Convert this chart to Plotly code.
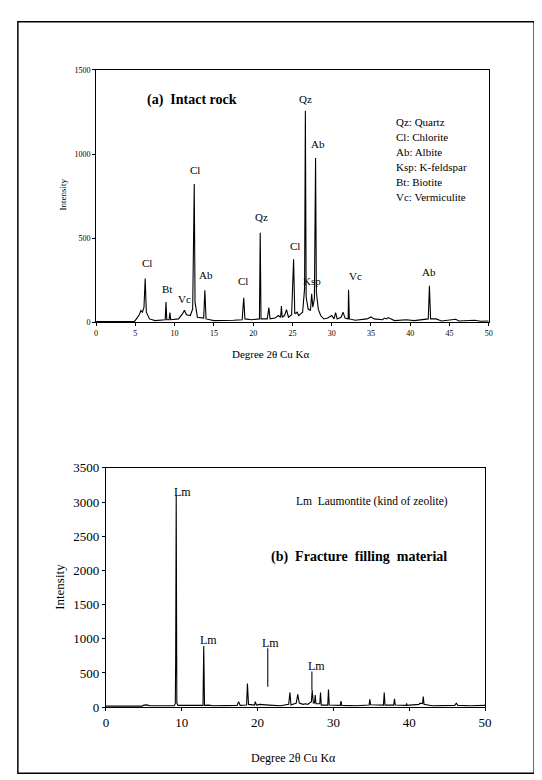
import plotly.graph_objects as go

W, H = 542, 780

# ---------------- (a) Intact rock ----------------
two_theta_a = [0, 4.9, 5.2, 5.5, 5.7, 5.9, 6.1, 6.25, 6.4, 6.8, 7.5, 8.5, 8.8, 8.9, 9.0, 9.3, 9.4, 9.5,
               10.5, 11.0, 11.25, 11.5, 12.0, 12.3, 12.4, 12.5, 12.6, 12.9, 13.7, 13.85, 14.0, 15.0,
               17.5, 18.6, 18.8, 18.95, 19.8, 20.8, 20.9, 21.0, 21.8, 22.0, 22.15, 22.8, 23.2, 23.5,
               23.6, 23.7, 24.0, 24.25, 24.5, 24.9, 25.15, 25.3, 25.6, 25.8, 26.3, 26.55, 26.65, 26.75,
               27.0, 27.3, 27.45, 27.6, 27.8, 27.95, 28.05, 28.3, 28.6, 29.0, 29.5, 30.0, 30.3, 30.5,
               30.7, 31.2, 31.45, 31.7, 32.1, 32.15, 32.25, 33.0, 34.5, 35.0, 35.4, 36.5, 36.7, 37.0,
               37.2, 38.0, 39.5, 40.5, 42.3, 42.45, 42.6, 43.3, 44.0, 45.8, 46.2, 48.2, 49.0, 50.0]
intensity_a = [5, 5, 25, 45, 70, 60, 90, 260, 60, 20, 10, 12, 15, 120, 15, 15, 58, 15,
               20, 50, 72, 45, 40, 80, 560, 822, 120, 30, 25, 190, 20, 10,
               12, 15, 145, 20, 15, 20, 532, 20, 20, 87, 20, 25, 40, 30,
               97, 30, 40, 75, 30, 45, 375, 50, 60, 40, 60, 200, 1257, 150,
               80, 70, 170, 90, 140, 977, 180, 77, 40, 20, 25, 40, 20, 58,
               20, 30, 60, 25, 20, 193, 20, 12, 20, 32, 20, 15, 25, 20,
               28, 10, 15, 10, 20, 217, 20, 20, 8, 18, 8, 12, 6, 8]

peak_labels_a = ["Cl", "Bt", "Vc", "Cl", "Ab", "Cl", "Qz", "Cl", "Qz", "Ksp", "Ab", "Vc", "Ab"]
peak_label_x_a = [6.45, 9.05, 11.25, 12.6, 13.95, 18.75, 21.0, 25.3, 26.65, 27.5, 28.25, 33.0, 42.45]
peak_label_y_a = [350, 200, 140, 905, 280, 246, 625, 455, 1330, 248, 1058, 275, 300]

mineral_key_a = ["Qz: Quartz", "Cl: Chlorite", "Ab: Albite", "Ksp: K-feldspar", "Bt: Biotite", "Vc: Vermiculite"]

# ---------------- (b) Fracture filling material ----------------
two_theta_b = [0, 4.8, 5.0, 5.4, 5.8, 9.0, 9.15, 9.2, 9.27, 9.35, 9.5, 12.8, 12.9, 13.0, 13.5, 14.2,
               17.3, 17.5, 17.7, 18.55, 18.66, 18.8, 19.6, 19.7, 19.85, 20.3, 21.5, 23.0, 24.1, 24.27,
               24.4, 25.1, 25.3, 25.5, 26.0, 26.3, 26.6, 27.1, 27.2, 27.35, 27.5, 27.6, 27.7, 28.2,
               28.3, 28.4, 29.25, 29.35, 29.45, 30.9, 31.0, 31.1, 33.0, 34.7, 34.8, 34.9, 36.6, 36.7,
               36.8, 37.95, 38.05, 38.15, 39.6, 39.65, 39.7, 41.3, 41.4, 41.75, 41.85, 41.95, 43.0,
               46.0, 46.2, 46.4, 48.0, 50.0]
intensity_b = [15, 15, 30, 33, 20, 20, 50, 700, 3100, 60, 25, 25, 894, 25, 30, 20,
               25, 80, 25, 30, 344, 40, 30, 80, 30, 40, 30, 20, 40, 215,
               30, 60, 186, 60, 40, 50, 40, 80, 250, 60, 60, 177, 50, 50,
               215, 30, 30, 258, 30, 25, 90, 25, 20, 30, 115, 35, 30, 215,
               30, 30, 120, 30, 25, 57, 25, 40, 57, 50, 153, 40, 20,
               25, 57, 25, 20, 25]

lm_label_x = [10.1, 13.5, 21.75, 27.8]
lm_label_y = [3150, 985, 945, 595]
leader_x = [21.34, 27.16]
leader_top = [860, 520]
leader_bottom = [297, 249]

serif = "Liberation Serif, Times New Roman, serif"

fig = go.Figure()

fig.add_trace(go.Scatter(x=two_theta_a, y=intensity_a, mode="lines",
                         line=dict(color="black", width=1.1), xaxis="x", yaxis="y",
                         hoverinfo="skip", showlegend=False))
fig.add_trace(go.Scatter(x=two_theta_b, y=intensity_b, mode="lines",
                         line=dict(color="black", width=1.1), xaxis="x2", yaxis="y2",
                         hoverinfo="skip", showlegend=False))

lx, ly = [], []
for x, t, b in zip(leader_x, leader_top, leader_bottom):
    lx += [x, x, None]
    ly += [t, b, None]
fig.add_trace(go.Scatter(x=lx, y=ly, mode="lines",
                         line=dict(color="#222222", width=1.2),
                         xaxis="x2", yaxis="y2", hoverinfo="skip", showlegend=False))

annotations = []
for t, x, y in zip(peak_labels_a, peak_label_x_a, peak_label_y_a):
    annotations.append(dict(x=x, y=y, xref="x", yref="y", text=t, showarrow=False,
                            font=dict(family=serif, size=11, color="black")))
for x, y in zip(lm_label_x, lm_label_y):
    annotations.append(dict(x=x, y=y, xref="x2", yref="y2", text="Lm", showarrow=False,
                            font=dict(family=serif, size=12, color="black")))

# key text (a)
key_top_px = 109
for i, t in enumerate(mineral_key_a):
    annotations.append(dict(x=390 / W, y=1 - (key_top_px + i * 15.4) / H, xref="paper", yref="paper",
                            text=t, showarrow=False, xanchor="left", yanchor="middle",
                            font=dict(family=serif, size=11, color="black")))

annotations += [
    dict(x=137 / W, y=1 - 87 / H, xref="paper", yref="paper", text="<b>(a)  Intact rock</b>",
         showarrow=False, xanchor="left", yanchor="middle",
         font=dict(family=serif, size=14, color="black")),
    dict(x=265 / W, y=1 - 346 / H, xref="paper", yref="paper", text="Degree 2θ Cu Kα",
         showarrow=False, xanchor="center", yanchor="middle",
         font=dict(family=serif, size=11, color="black")),
    dict(x=53 / W, y=1 - 183 / H, xref="paper", yref="paper", text="Intensity",
         showarrow=False, textangle=-90, xanchor="center", yanchor="middle",
         font=dict(family=serif, size=9, color="black")),
    dict(x=368 / W, y=1 - 496 / H, xref="paper", yref="paper", text="Lm  Laumontite (kind of zeolite)",
         showarrow=False, xanchor="center", yanchor="middle",
         font=dict(family=serif, size=11.5, color="black")),
    dict(x=355 / W, y=1 - 553 / H, xref="paper", yref="paper", text="<b>(b)  Fracture  filling  material</b>",
         showarrow=False, xanchor="center", yanchor="middle",
         font=dict(family=serif, size=14, color="black")),
    dict(x=288 / W, y=1 - 758 / H, xref="paper", yref="paper", text="Degree 2θ Cu Kα",
         showarrow=False, xanchor="center", yanchor="middle",
         font=dict(family=serif, size=12, color="black")),
    dict(x=50 / W, y=1 - 583 / H, xref="paper", yref="paper", text="Intensity",
         showarrow=False, textangle=-90, xanchor="center", yanchor="middle",
         font=dict(family=serif, size=13, color="black")),
]

axis_common = dict(showgrid=False, zeroline=False, showline=True, linecolor="black", linewidth=1,
                   mirror=True, ticks="outside", tickcolor="black", color="black")

fig.update_layout(
    width=W, height=H,
    margin=dict(l=0, r=0, t=0, b=0),
    paper_bgcolor="white", plot_bgcolor="white",
    showlegend=False,
    xaxis=dict(domain=[86.7 / W, 486.7 / W], anchor="y", range=[0, 50], tickmode="array",
               tickvals=list(range(0, 51, 5)), ticklen=3,
               tickfont=dict(family=serif, size=8, color="black"), **axis_common),
    yaxis=dict(domain=[1 - 313.3 / H, 1 - 56 / H], anchor="x", range=[0, 1500], tickmode="array",
               tickvals=[0, 500, 1000, 1500], ticklen=3,
               tickfont=dict(family=serif, size=8, color="black"), **axis_common),
    xaxis2=dict(domain=[96.7 / W, 483 / W], anchor="y2", range=[0, 50], tickmode="array",
                tickvals=list(range(0, 51, 10)), ticklen=3,
                tickfont=dict(family=serif, size=13, color="black"), **axis_common),
    yaxis2=dict(domain=[1 - 705.7 / H, 1 - 461.7 / H], anchor="x2", range=[0, 3500], tickmode="array",
                tickvals=list(range(0, 3501, 500)), ticklen=3,
                tickfont=dict(family=serif, size=13, color="black"), **axis_common),
    annotations=annotations,
    shapes=[dict(type="rect", xref="paper", yref="paper", x0=7 / W, x1=533 / W,
                 y0=1 - 773 / H, y1=1 - 7 / H, line=dict(color="black", width=1.5))],
)

fig.write_html("out.html")
